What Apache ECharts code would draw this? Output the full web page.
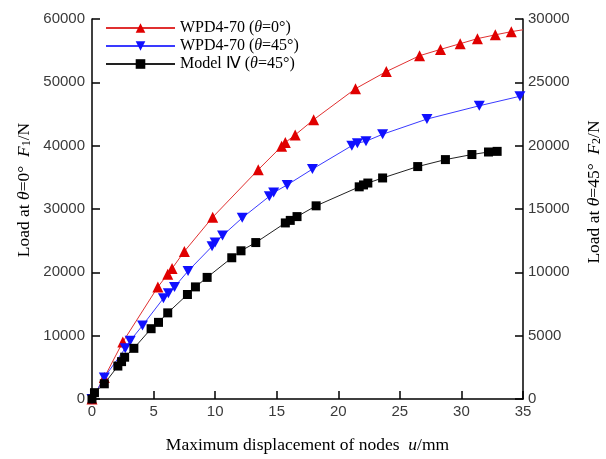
<!DOCTYPE html>
<html>
<head>
<meta charset="utf-8">
<script src="https://cdn.jsdelivr.net/npm/echarts@6/dist/echarts.min.js"></script>
<style>
  html, body { margin: 0; padding: 0; background: #fff; }
  #chart { width: 606px; height: 459px; }
</style>
</head>
<body>
<div id="chart"></div>
<script>
// Axis ranges [min, max, step]
const xRange = [0, 35, 5];
const leftRange = [0, 60000, 10000];
const rightRange = [0, 30000, 5000];

// Series names
const seriesNames = ['WPD4-70 (θ=0°)', 'WPD4-70 (θ=45°)', 'Model Ⅳ (θ=45°)'];

// WPD4-70, θ=0°: [displacement u (mm), load F1 (N)]
const wpd0 = [
  [0, 0], [1.0, 3400], [2.5, 9000], [5.35, 17700], [6.15, 19700], [6.5, 20600],
  [7.5, 23300], [9.8, 28700], [13.5, 36200], [15.4, 39900], [15.7, 40500],
  [16.5, 41700], [18.0, 44100], [21.4, 49000], [23.9, 51700], [26.6, 54200],
  [28.3, 55200], [29.9, 56100], [31.3, 56900], [32.75, 57500], [34.05, 58000],
  [35, 58300]
];

// WPD4-70, θ=45°: [displacement u (mm), load F2 (N)]
const wpd45 = [
  [0, 0], [1.0, 1700], [2.7, 4000], [3.1, 4600], [4.1, 5800], [5.8, 7950],
  [6.2, 8350], [6.7, 8850], [7.8, 10100], [9.75, 12050], [10.0, 12350],
  [10.6, 12900], [12.2, 14300], [14.4, 16000], [14.75, 16300], [15.85, 16900],
  [17.9, 18150], [21.1, 20000], [21.55, 20200], [22.25, 20350], [23.6, 20900],
  [27.2, 22100], [31.45, 23150], [34.75, 23900]
];

// Model IV, θ=45°: [displacement u (mm), load F2 (N)]
const model4 = [
  [0, 0], [0.2, 500], [1.0, 1200], [2.1, 2600], [2.4, 2950], [2.65, 3300],
  [3.4, 4000], [4.8, 5550], [5.4, 6050], [6.15, 6800], [7.75, 8250], [8.4, 8850],
  [9.35, 9600], [11.35, 11150], [12.1, 11700], [13.3, 12350], [15.7, 13900],
  [16.1, 14100], [16.65, 14400], [18.2, 15250], [21.7, 16750], [22.05, 16900],
  [22.4, 17050], [23.6, 17450], [26.45, 18350], [28.7, 18900], [30.85, 19300],
  [32.2, 19500], [32.9, 19550]
];

const serif = '"Liberation Serif", "Times New Roman", serif';
const sans = '"Liberation Sans", Arial, sans-serif';

// Rich styles for legend entries
const legendRich = {
  a: { fontFamily: serif, fontSize: 16, color: '#000' },
  i: { fontFamily: serif, fontSize: 16, fontStyle: 'italic', color: '#000' }
};
// Rich styles for axis titles (slightly larger)
const titleRich = {
  a: { fontFamily: serif, fontSize: 17.5, color: '#000' },
  i: { fontFamily: serif, fontSize: 17.5, fontStyle: 'italic', color: '#000' },
  s: { fontFamily: serif, fontSize: 12, color: '#000', verticalAlign: 'bottom' }
};

function richName(name) {
  return name.replace(/θ/g, '{i|θ}').replace(/([^|{}]+)(?=\{|$)/g, function (m) {
    return '{a|' + m + '}';
  });
}

function plainNumber(v) { return String(v); }

const downTriangle = 'path://M0,0 L10,0 L5,9 Z';

function tickLabel(margin) {
  return { fontFamily: sans, fontSize: 15, color: '#3a3a3a', margin: margin, formatter: plainNumber };
}

const axisStyle = {
  axisLine: { show: true, onZero: false, lineStyle: { color: '#000', width: 1.5 } },
  axisTick: { show: true, inside: true, length: 8, lineStyle: { color: '#000', width: 1.5 } },
  splitLine: { show: false }
};

const chart = echarts.init(document.getElementById('chart'));
chart.setOption({
  animation: false,
  backgroundColor: '#fff',
  grid: { left: 92, right: 83, top: 19, bottom: 48, containLabel: false },
  legend: {
    left: 100, top: 15, orient: 'vertical',
    itemWidth: 69, itemHeight: 12, itemGap: 2,
    data: seriesNames,
    formatter: function (name) { return richName(name); },
    textStyle: { rich: legendRich }
  },
  xAxis: Object.assign({
    type: 'value', min: xRange[0], max: xRange[1], interval: xRange[2],
    name: '{a|Maximum displacement of nodes  }{i|u}{a|/mm}',
    nameLocation: 'middle', nameGap: 37,
    nameTextStyle: { rich: titleRich },
    axisLabel: tickLabel(5)
  }, axisStyle),
  yAxis: [
    Object.assign({
      type: 'value', position: 'left', min: leftRange[0], max: leftRange[1], interval: leftRange[2],
      axisLabel: tickLabel(7)
    }, axisStyle),
    Object.assign({
      type: 'value', position: 'right', min: rightRange[0], max: rightRange[1], interval: rightRange[2],
      axisLabel: tickLabel(5)
    }, axisStyle)
  ],
  graphic: [
    {
      type: 'text', x: 24, y: 190, rotation: Math.PI / 2,
      style: {
        text: '{a|Load at }{i|θ}{a|=0°  }{i|F}{s|1}{a|/N}',
        rich: titleRich, align: 'center', verticalAlign: 'middle'
      }
    },
    {
      type: 'text', x: 594, y: 192, rotation: Math.PI / 2,
      style: {
        text: '{a|Load at }{i|θ}{a|=45°  }{i|F}{s|2}{a|/N}',
        rich: titleRich, align: 'center', verticalAlign: 'middle'
      }
    }
  ],
  series: [
    {
      name: seriesNames[0], type: 'line', yAxisIndex: 0,
      data: wpd0.map(function (p, i) {
        return i === wpd0.length - 1 ? { value: p, symbol: 'none' } : p;
      }),
      symbol: 'triangle', symbolSize: 11,
      lineStyle: { color: '#e03030', width: 1 },
      itemStyle: { color: '#e00000' },
      z: 3
    },
    {
      name: seriesNames[1], type: 'line', yAxisIndex: 1, data: wpd45,
      symbol: downTriangle, symbolSize: [11, 10],
      lineStyle: { color: '#3a3aff', width: 1 },
      itemStyle: { color: '#1010ff' },
      z: 3
    },
    {
      name: seriesNames[2], type: 'line', yAxisIndex: 1, data: model4,
      symbol: 'rect', symbolSize: 9,
      lineStyle: { color: '#222', width: 1 },
      itemStyle: { color: '#000' },
      z: 3
    }
  ]
});
</script>
</body>
</html>
